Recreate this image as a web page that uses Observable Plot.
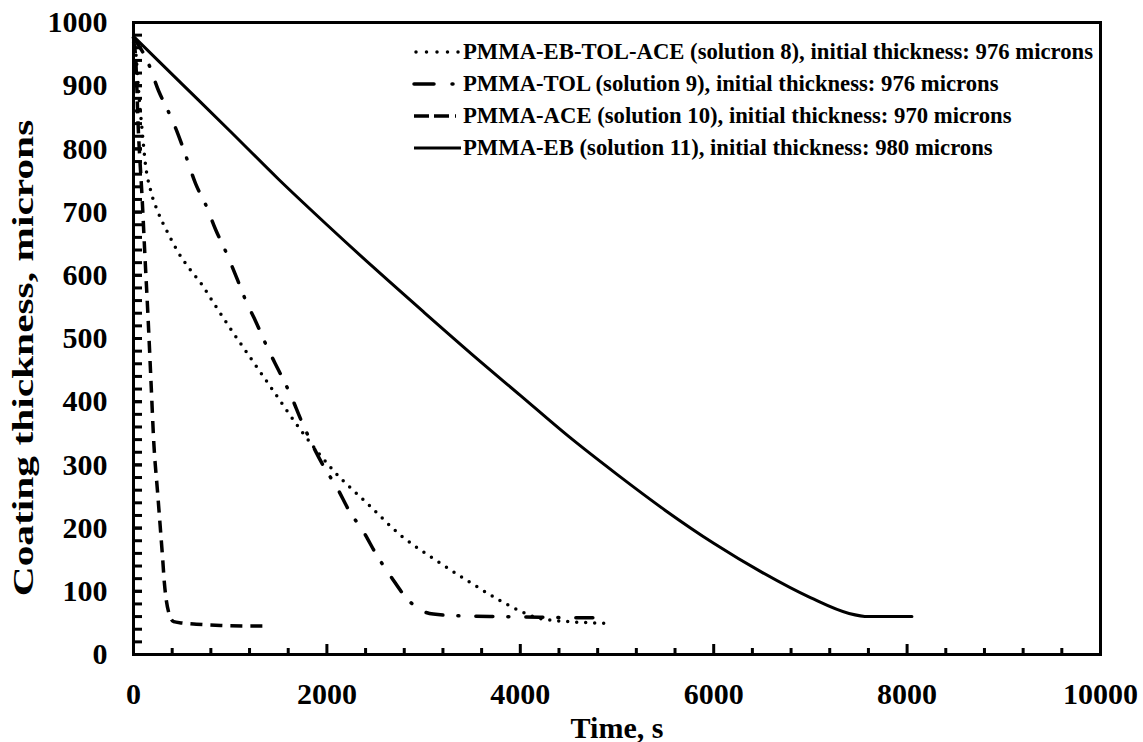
<!DOCTYPE html>
<html><head><meta charset="utf-8">
<script src="https://cdn.jsdelivr.net/npm/d3@7"></script>
<script src="https://cdn.jsdelivr.net/npm/@observablehq/plot@0.6"></script>
<style>
body{margin:0;background:#fff;}
#wrap{position:relative;width:1143px;height:742px;font-family:"Liberation Serif","Times New Roman",serif;font-weight:bold;color:#000;}
#legend{position:absolute;left:412px;top:36px;}
.row{display:flex;align-items:center;height:32px;font-size:22.7px;white-space:nowrap;}
.row svg{width:50px;height:10px;margin-right:1px;}
#ytitle{position:absolute;left:23px;top:358px;width:0;height:0;}
#ytitle span{position:absolute;left:0;top:0;font-size:30px;line-height:1;white-space:nowrap;transform-origin:0 0;transform:rotate(-90deg) scaleX(1.38) translate(-50%,-50%);}
</style>
</head><body>
<div id="wrap"><div id="chart"></div><div id="legend"></div><div id="ytitle"><span>Coating thickness, microns</span></div></div>
<script>
// Series names
const seriesNames = [
  "PMMA-EB-TOL-ACE (solution 8), initial thickness: 976 microns",
  "PMMA-TOL (solution 9), initial thickness: 976 microns",
  "PMMA-ACE (solution 10), initial thickness: 970 microns",
  "PMMA-EB (solution 11), initial thickness: 980 microns"
];
// Solution 8
const time8  = [0, 25, 52, 93, 124, 176, 259, 352, 456, 591, 694, 829, 1036, 1243, 1451, 1730, 2073, 2425, 2767, 3109, 3461, 3772, 4010, 4200, 4500, 4750, 4950];
const thick8 = [976, 950, 894, 823, 775, 735, 698, 668, 638, 608, 588, 556, 508, 462, 416, 355, 290, 238, 188, 151, 116, 87, 68, 57, 52, 50, 49];
// Solution 9
const time9  = [0, 155, 259, 352, 456, 539, 642, 746, 850, 953, 1078, 1161, 1264, 1389, 1503, 1627, 1730, 1969, 2104, 2228, 2383, 2508, 2663, 2819, 2950, 3100, 3400, 3800, 4200, 4600, 4890];
const thick9 = [976, 935, 892, 862, 825, 790, 745, 712, 672, 638, 592, 560, 527, 484, 449, 410, 372, 297, 264, 228, 193, 159, 123, 90, 72, 64, 61, 60, 59, 58, 58];
// Solution 10
const time10  = [0, 20, 50, 90, 120, 150, 180, 210, 250, 280, 300, 320, 340, 365, 415, 500, 650, 900, 1200, 1350];
const thick10 = [970, 950, 830, 720, 625, 535, 435, 335, 255, 195, 155, 112, 85, 66, 52, 50, 48, 46, 45, 45];
// Solution 11
const time11  = [0, 500, 1000, 1500, 2000, 2500, 3000, 3500, 4000, 4500, 5000, 5500, 6000, 6500, 7000, 7400, 7600, 8050];
const thick11 = [978, 903, 828, 752, 680, 610, 542, 475, 410, 345, 285, 228, 176, 130, 90, 65, 60, 60];

// Axis ticks
const xMajorTicks = [0, 2000, 4000, 6000, 8000, 10000];
const xMinorTicks = d3.range(400, 10000, 400).filter(v => v % 2000 !== 0);
const yMajorTicks = [0, 100, 200, 300, 400, 500, 600, 700, 800, 900, 1000];
const yMinorTicks = d3.range(20, 1000, 20);

const W = 1143, H = 742, ML = 133, MR = 43, MT = 22, MB = 88;
const PW = W - ML - MR, PH = H - MT - MB;

const toRows = (t, v) => t.map((d, i) => ({t: d, v: v[i]}));
const s8 = toRows(time8, thick8), s9 = toRows(time9, thick9), s10 = toRows(time10, thick10), s11 = toRows(time11, thick11);

const styles = [
  {strokeWidth: 3.5, strokeDasharray: "0 9", strokeLinecap: "round"},
  {strokeWidth: 3.5, strokeDasharray: "17 15 1 17", strokeLinecap: "round"},
  {strokeWidth: 3.5, strokeDasharray: "12 8", strokeLinecap: "butt"},
  {strokeWidth: 3, strokeDasharray: null, strokeLinecap: "round"}
];

const font = {fontFamily: "Liberation Serif, Times New Roman, serif", fontWeight: "bold"};

const chart = Plot.plot({
  width: W, height: H,
  marginLeft: ML, marginRight: MR, marginTop: MT, marginBottom: MB,
  style: {...font, fontSize: "30px", color: "#000", background: "#fff", overflow: "visible"},
  x: {domain: [0, 10000]},
  y: {domain: [0, 1000]},
  marks: [
    Plot.axisX({ticks: xMajorTicks, tickSize: 0, tickPadding: 28, fontSize: 30, label: null, tickFormat: d => String(d)}),
    Plot.axisY({ticks: yMajorTicks, tickSize: 0, tickPadding: 26, fontSize: 30, label: null, tickFormat: d => String(d)}),
    Plot.tickX(xMinorTicks, {x: d => d, insetTop: PH - 6, strokeWidth: 3}),
    Plot.tickX(xMajorTicks, {x: d => d, insetTop: PH - 10, strokeWidth: 3}),
    Plot.tickY(yMinorTicks, {y: d => d, insetRight: PW - 9, strokeWidth: 3}),
    Plot.tickY(yMajorTicks, {y: d => d, insetRight: PW - 9, strokeWidth: 3}),
    Plot.line(s11, {x: "t", y: "v", stroke: "#000", curve: "monotone-x", ...styles[3]}),
    Plot.line(s10, {x: "t", y: "v", stroke: "#000", curve: "monotone-x", ...styles[2]}),
    Plot.line(s9, {x: "t", y: "v", stroke: "#000", curve: "monotone-x", ...styles[1]}),
    Plot.line(s8, {x: "t", y: "v", stroke: "#000", curve: "monotone-x", ...styles[0]}),
    Plot.frame({stroke: "#000", strokeWidth: 3}),
    Plot.text(["Time, s"], {frameAnchor: "bottom", dy: 83, lineAnchor: "bottom", fontSize: 30, ...font, fill: "#000"})
  ]
});
document.getElementById("chart").appendChild(chart);

// Legend
const legend = document.getElementById("legend");
seriesNames.forEach((name, i) => {
  const row = document.createElement("div");
  row.className = "row";
  const st = styles[i];
  const legendDash = [ "0 10.5", "20 18 1 30", "15 5 15 6 1 40", null ][i];
  row.innerHTML = `<svg viewBox="0 0 50 10"><line x1="${i===0?4:2}" x2="49" y1="5" y2="5" stroke="#000" stroke-width="${st.strokeWidth}" ${legendDash ? `stroke-dasharray="${legendDash}"` : ""} stroke-linecap="${i===0||i===1?'round':'butt'}"/></svg><span>${name}</span>`;
  legend.appendChild(row);
});
</script>
</body></html>
